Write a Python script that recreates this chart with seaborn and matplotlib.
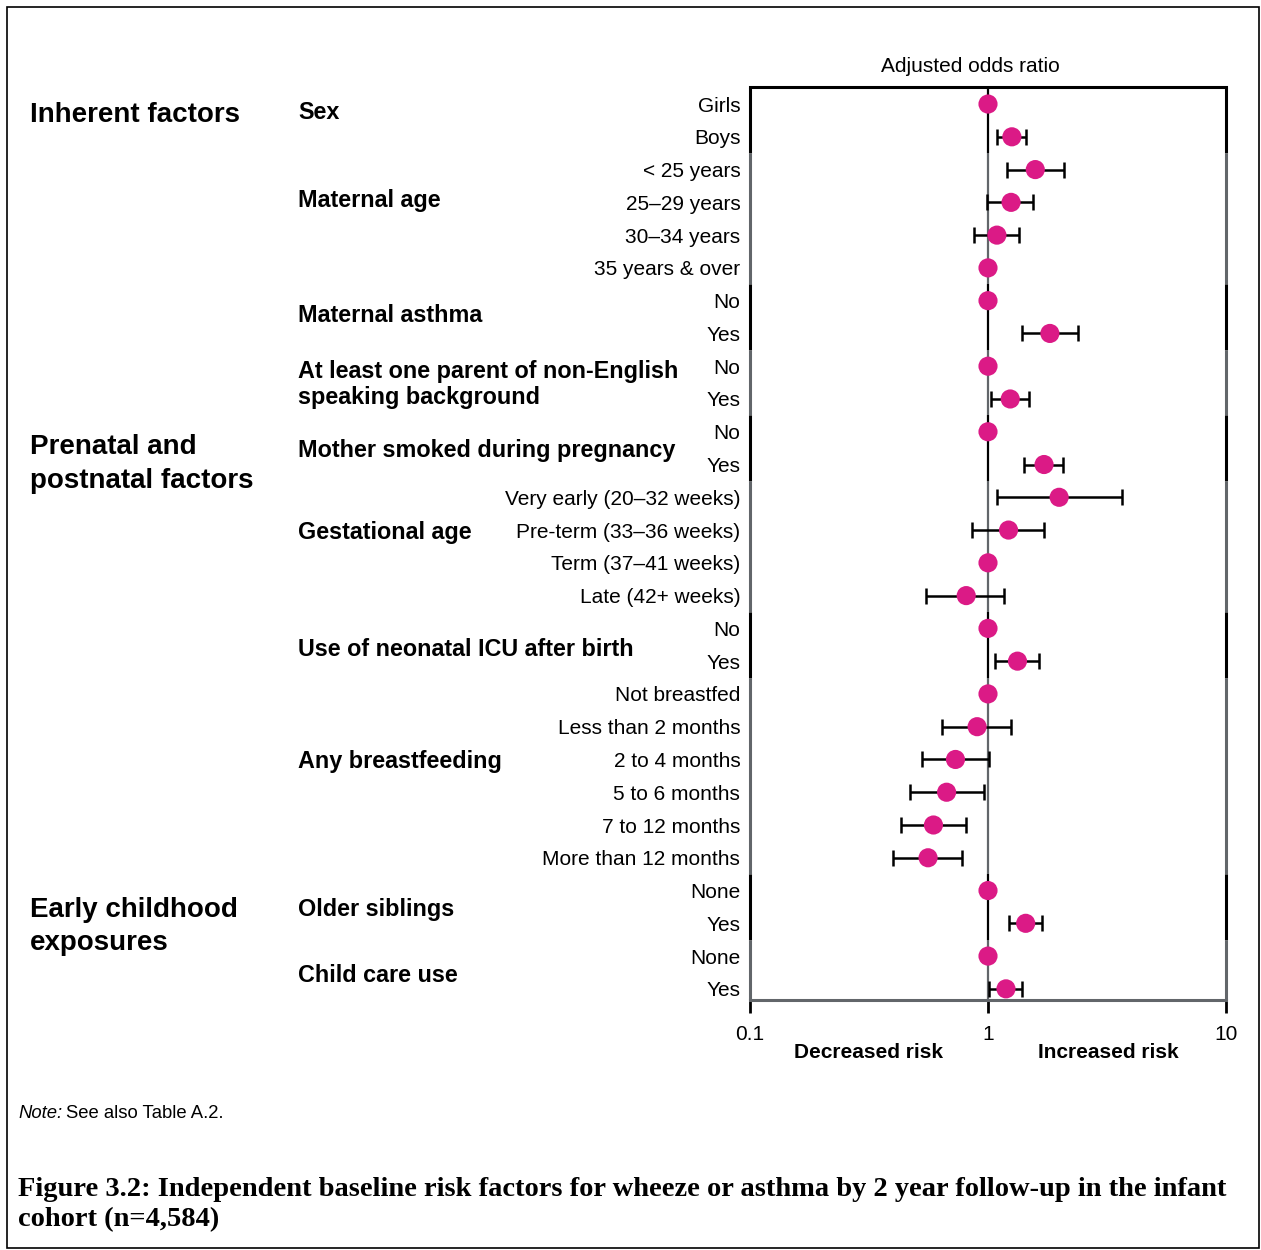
import numpy as np
import matplotlib
matplotlib.use("Agg")
import matplotlib.pyplot as plt
import matplotlib.transforms as mtransforms
from matplotlib.patches import Rectangle
from matplotlib.ticker import NullLocator
import seaborn as sns

# rows of the forest plot, top to bottom
row_labels = [
    "Girls", "Boys",
    "< 25 years", "25–29 years", "30–34 years", "35 years & over",
    "No", "Yes",
    "No", "Yes",
    "No", "Yes",
    "Very early (20–32 weeks)", "Pre-term (33–36 weeks)", "Term (37–41 weeks)", "Late (42+ weeks)",
    "No", "Yes",
    "Not breastfed", "Less than 2 months", "2 to 4 months", "5 to 6 months",
    "7 to 12 months", "More than 12 months",
    "None", "Yes",
    "None", "Yes",
]
odds_ratio = [1.00, 1.26, 1.58, 1.25, 1.09, 1.00, 1.00, 1.82, 1.00, 1.24, 1.00, 1.72,
              1.99, 1.22, 1.00, 0.81, 1.00, 1.33, 1.00, 0.90, 0.73, 0.67, 0.59, 0.56,
              1.00, 1.44, 1.00, 1.19]
ci_low = [None, 1.09, 1.20, 0.99, 0.87, None, None, 1.39, None, 1.03, None, 1.42,
          1.09, 0.86, None, 0.55, None, 1.07, None, 0.64, 0.53, 0.47, 0.43, 0.40,
          None, 1.23, None, 1.01]
ci_high = [None, 1.44, 2.09, 1.55, 1.35, None, None, 2.38, None, 1.48, None, 2.07,
           3.65, 1.72, None, 1.17, None, 1.64, None, 1.25, 1.01, 0.96, 0.81, 0.78,
           None, 1.69, None, 1.39]

group_names = ["Sex", "Maternal age", "Maternal asthma",
               "At least one parent of non-English\nspeaking background",
               "Mother smoked during pregnancy", "Gestational age",
               "Use of neonatal ICU after birth", "Any breastfeeding",
               "Older siblings", "Child care use"]
group_sizes = [2, 4, 2, 2, 2, 4, 2, 6, 2, 2]
group_label_rows = [0.27, 2.93, 6.44, 8.56, 10.56, 13.06, 16.63, 20.07, 24.59, 26.6]

sections = ["Inherent factors", "Prenatal and\npostnatal factors", "Early childhood\nexposures"]
section_rows = [0.34, 10.98, 25.1]

PINK = "#db1a86"
GREY = "#62666a"

sns.set_style("white")
plt.rcParams["font.family"] = ["Liberation Sans", "DejaVu Sans"]
plt.rcParams["text.color"] = "black"
plt.rcParams["xtick.color"] = "black"
plt.rcParams["ytick.color"] = "black"
plt.rcParams["axes.labelcolor"] = "black"

fig = plt.figure(figsize=(12.61, 12.5), dpi=100)
ax = fig.add_axes([750 / 1261, 1 - 1000 / 1250, 476 / 1261, 913 / 1250])

rows = np.arange(len(row_labels))
ax.set_xscale("log")
ax.set_xlim(0.1, 10)
ax.set_ylim(27.34, -0.52)

# alternating black / grey segments for the frame and the line at 1
start = 0
ylo, yhi = -0.52, 27.34
for i, n in enumerate(group_sizes):
    y0 = max(start - 0.5, ylo)
    y1 = min(start + n - 0.5, yhi)
    c = "black" if i % 2 == 0 else GREY
    ax.vlines([0.1, 10], y0, y1, colors=c, lw=2.2, clip_on=False, zorder=1)
    ax.vlines(1, y0, y1, colors=c, lw=1.6, zorder=1)
    start += n

ci_rows = [r for r in rows if ci_low[r] is not None]
est = np.array([odds_ratio[r] for r in ci_rows])
lo = np.array([ci_low[r] for r in ci_rows])
hi = np.array([ci_high[r] for r in ci_rows])
ax.errorbar(est, ci_rows, xerr=[est - lo, hi - est], fmt="none", ecolor="black",
            elinewidth=1.8, capsize=6, capthick=1.8, zorder=2)
sns.scatterplot(x=odds_ratio, y=rows, ax=ax, color=PINK, s=190, edgecolor="none",
                zorder=3, legend=False)

for side in ["left", "right"]:
    ax.spines[side].set_visible(False)
ax.spines["top"].set_color("black")
ax.spines["top"].set_linewidth(2.2)
ax.spines["bottom"].set_color(GREY)
ax.spines["bottom"].set_linewidth(2.2)

ax.set_xticks([0.1, 1, 10])
ax.set_xticklabels(["0.1", "1", "10"])
ax.xaxis.set_minor_locator(NullLocator())
ax.tick_params(axis="x", bottom=True, length=9, width=2, color="black",
               labelsize=15, pad=9)
ax.set_yticks(rows)
ax.set_yticklabels(row_labels)
ax.tick_params(axis="y", left=False, length=0, labelsize=15, pad=7)
ax.set_xlabel("")
ax.set_ylabel("")

blend = mtransforms.blended_transform_factory(fig.transFigure, ax.transData)
for name, yr in zip(group_names, group_label_rows):
    ax.text(298 / 1261, yr, name, transform=blend, fontsize=16.8, fontweight="bold",
            ha="left", va="center", linespacing=1.15)
for name, yr in zip(sections, section_rows):
    ax.text(30 / 1261, yr, name, transform=blend, fontsize=20, fontweight="bold",
            ha="left", va="center", linespacing=1.38)

fig.text(970 / 1261, 1 - 66 / 1250, "Adjusted odds ratio", ha="center", va="center", fontsize=15)
fig.text(869 / 1261, 1 - 1053 / 1250, "Decreased risk", ha="center", va="center",
         fontsize=15, fontweight="bold")
fig.text(1108 / 1261, 1 - 1053 / 1250, "Increased risk", ha="center", va="center",
         fontsize=15, fontweight="bold")

fig.text(18 / 1261, 1 - 1113 / 1250, "Note:", style="italic", ha="left", va="center", fontsize=13.3)
fig.text(66 / 1261, 1 - 1113 / 1250, "See also Table A.2.", ha="left", va="center", fontsize=13.3)

fig.text(18 / 1261, 1 - 1177 / 1250,
         "Figure 3.2: Independent baseline risk factors for wheeze or asthma by 2 year follow-up in the infant\n"
         "cohort (n=4,584)",
         ha="left", va="top", fontsize=20.5, fontweight="bold", family="Liberation Serif",
         linespacing=1.25)

fig.patches.append(Rectangle((7 / 1261, 2 / 1250), 1252 / 1261, 1241 / 1250,
                             transform=fig.transFigure, fill=False, edgecolor="black",
                             lw=1.2))

fig.savefig("out.png", dpi=100)
